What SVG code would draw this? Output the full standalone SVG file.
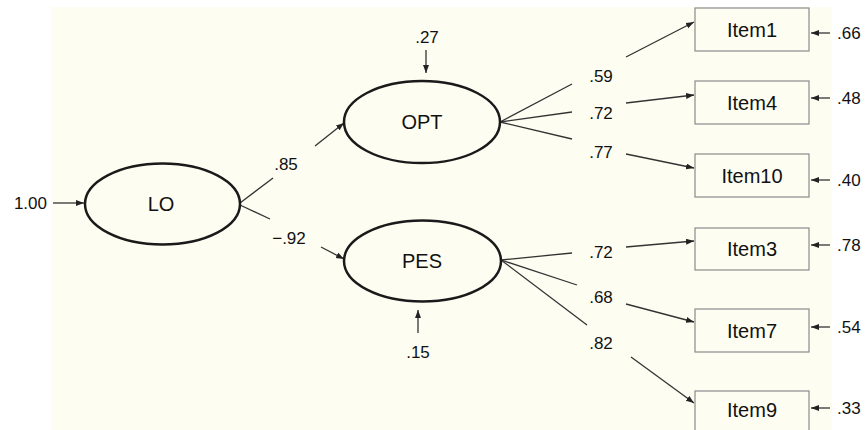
<svg xmlns="http://www.w3.org/2000/svg" width="866" height="430" viewBox="0 0 866 430">
<defs>
<marker id="ah" markerUnits="userSpaceOnUse" markerWidth="9" markerHeight="7" refX="8" refY="3" orient="auto">
<path d="M0,0 L8,3 L0,6 z" fill="#222"/>
</marker>
<style>
.ln{stroke:#333;stroke-width:1.3;fill:none}
.ar{stroke:#333;stroke-width:1.3;fill:none;marker-end:url(#ah)}
.el{fill:#fdfdf2;stroke:#1a1a1a;stroke-width:2.5}
.bx{fill:#fdfdf2;stroke:#8a8a8a;stroke-width:1.2}
.nm{font-family:"Liberation Sans",Arial,sans-serif;font-size:20px;fill:#111;text-anchor:middle}
.nb{font-family:"Liberation Sans",Arial,sans-serif;font-size:17px;fill:#111}
.c{text-anchor:middle}
</style>
</defs>
<rect x="0" y="0" width="866" height="430" fill="#ffffff"/>
<rect x="51" y="7" width="781" height="423" fill="#fdfdf2"/>

<g id="connectors">
<line class="ar" x1="53" y1="203" x2="84" y2="203"/>
<line class="ln" x1="240" y1="203" x2="273" y2="178"/>
<line class="ar" x1="315" y1="146" x2="344" y2="123"/>
<line class="ln" x1="240" y1="205" x2="270" y2="219"/>
<line class="ar" x1="321" y1="247" x2="344" y2="259"/>
<line class="ar" x1="426" y1="50" x2="426" y2="73"/>
<line class="ar" x1="418" y1="333" x2="418" y2="310"/>
<line class="ln" x1="500" y1="122" x2="572" y2="84"/>
<line class="ln" x1="500" y1="122" x2="572" y2="112"/>
<line class="ln" x1="500" y1="122" x2="572" y2="139"/>
<line class="ar" x1="626" y1="57" x2="694" y2="22"/>
<line class="ar" x1="626" y1="103" x2="694" y2="95"/>
<line class="ar" x1="626" y1="154" x2="694" y2="168"/>
<line class="ln" x1="501" y1="260" x2="572" y2="253"/>
<line class="ln" x1="501" y1="260" x2="577" y2="285"/>
<line class="ln" x1="501" y1="260" x2="587" y2="325"/>
<line class="ar" x1="626" y1="247" x2="694" y2="241"/>
<line class="ar" x1="626" y1="304" x2="694" y2="322"/>
<line class="ar" x1="631" y1="357" x2="694" y2="403"/>
<line class="ar" x1="830" y1="33" x2="811" y2="33"/>
<line class="ar" x1="830" y1="98" x2="811" y2="98"/>
<line class="ar" x1="830" y1="180" x2="811" y2="180"/>
<line class="ar" x1="830" y1="245" x2="811" y2="245"/>
<line class="ar" x1="830" y1="327" x2="811" y2="327"/>
<line class="ar" x1="830" y1="408" x2="811" y2="408"/>
</g>

<g id="LO"><ellipse class="el" cx="162.5" cy="204" rx="77.5" ry="40.5"/><text class="nm" x="161" y="211">LO</text></g>
<g id="OPT"><ellipse class="el" cx="422" cy="122" rx="78" ry="41"/><text class="nm" x="422" y="129">OPT</text></g>
<g id="PES"><ellipse class="el" cx="422.5" cy="261" rx="78.5" ry="40.5"/><text class="nm" x="422" y="268">PES</text></g>

<g id="Item1"><rect class="bx" x="695" y="8" width="114" height="43"/><text class="nm" x="752" y="37">Item1</text></g>
<g id="Item4"><rect class="bx" x="695" y="81" width="114" height="43"/><text class="nm" x="752" y="110">Item4</text></g>
<g id="Item10"><rect class="bx" x="695" y="154" width="114" height="43"/><text class="nm" x="752" y="183">Item10</text></g>
<g id="Item3"><rect class="bx" x="695" y="228" width="114" height="42"/><text class="nm" x="752" y="256">Item3</text></g>
<g id="Item7"><rect class="bx" x="695" y="309" width="114" height="43"/><text class="nm" x="752" y="338">Item7</text></g>
<g id="Item9"><rect class="bx" x="695" y="391" width="114" height="45"/><text class="nm" x="752" y="417">Item9</text></g>

<g id="labels">
<text class="nb" x="47" y="209" text-anchor="end">1.00</text>
<text class="nb c" x="286" y="170">.85</text>
<text class="nb c" x="289" y="244">−.92</text>
<text class="nb c" x="427" y="43">.27</text>
<text class="nb c" x="418" y="358">.15</text>
<text class="nb c" x="601" y="82">.59</text>
<text class="nb c" x="601" y="119">.72</text>
<text class="nb c" x="601" y="158">.77</text>
<text class="nb c" x="601" y="258">.72</text>
<text class="nb c" x="601" y="303">.68</text>
<text class="nb c" x="601" y="349">.82</text>
<text class="nb" x="837" y="39">.66</text>
<text class="nb" x="837" y="104">.48</text>
<text class="nb" x="837" y="186">.40</text>
<text class="nb" x="837" y="251">.78</text>
<text class="nb" x="837" y="333">.54</text>
<text class="nb" x="837" y="414">.33</text>
</g>
</svg>
